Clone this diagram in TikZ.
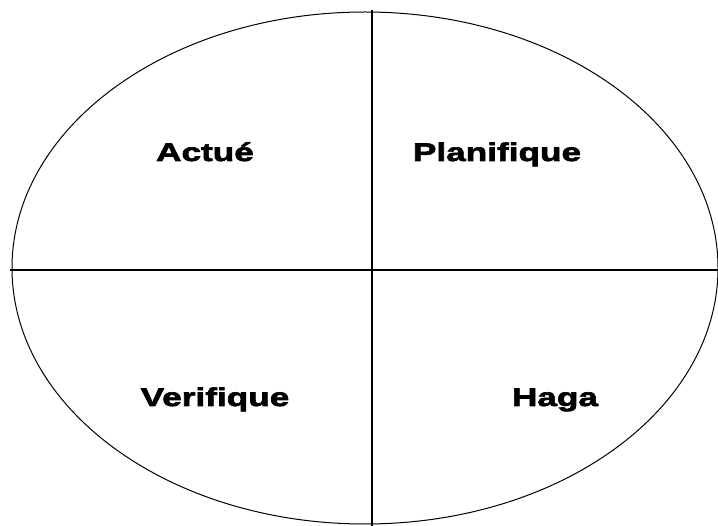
\documentclass[tikz,border=0pt]{standalone}
\usepackage{fontspec}
\newfontfamily\lblfont[FakeStretch=1.38,FakeBold=2.6]{Liberation Sans Bold}
\begin{document}
\begin{tikzpicture}[x=1pt,y=-1pt,
  lbl/.style={font=\lblfont\fontsize{25.5}{28}\selectfont, inner sep=0pt, anchor=base}]
\useasboundingbox (0,0) rectangle (718,526);
\fill[white] (0,0) rectangle (718,526);
\draw[line width=1pt] (365,268) ellipse [x radius=353, y radius=256];
\coordinate (top) at (372,10);
\coordinate (bot) at (372,526);
\coordinate (lft) at (10,270);
\coordinate (rgt) at (718,270);
\draw[line width=2pt] (top) -- (bot);
\draw[line width=2pt] (lft) -- (rgt);
\node[lbl] (act) at (205,161) {Actué};
\node[lbl] (plan) at (497,161) {Planifique};
\node[lbl] (ver) at (215,406) {Verifique};
\node[lbl] (haga) at (555,406) {Haga};
\end{tikzpicture}
\end{document}
